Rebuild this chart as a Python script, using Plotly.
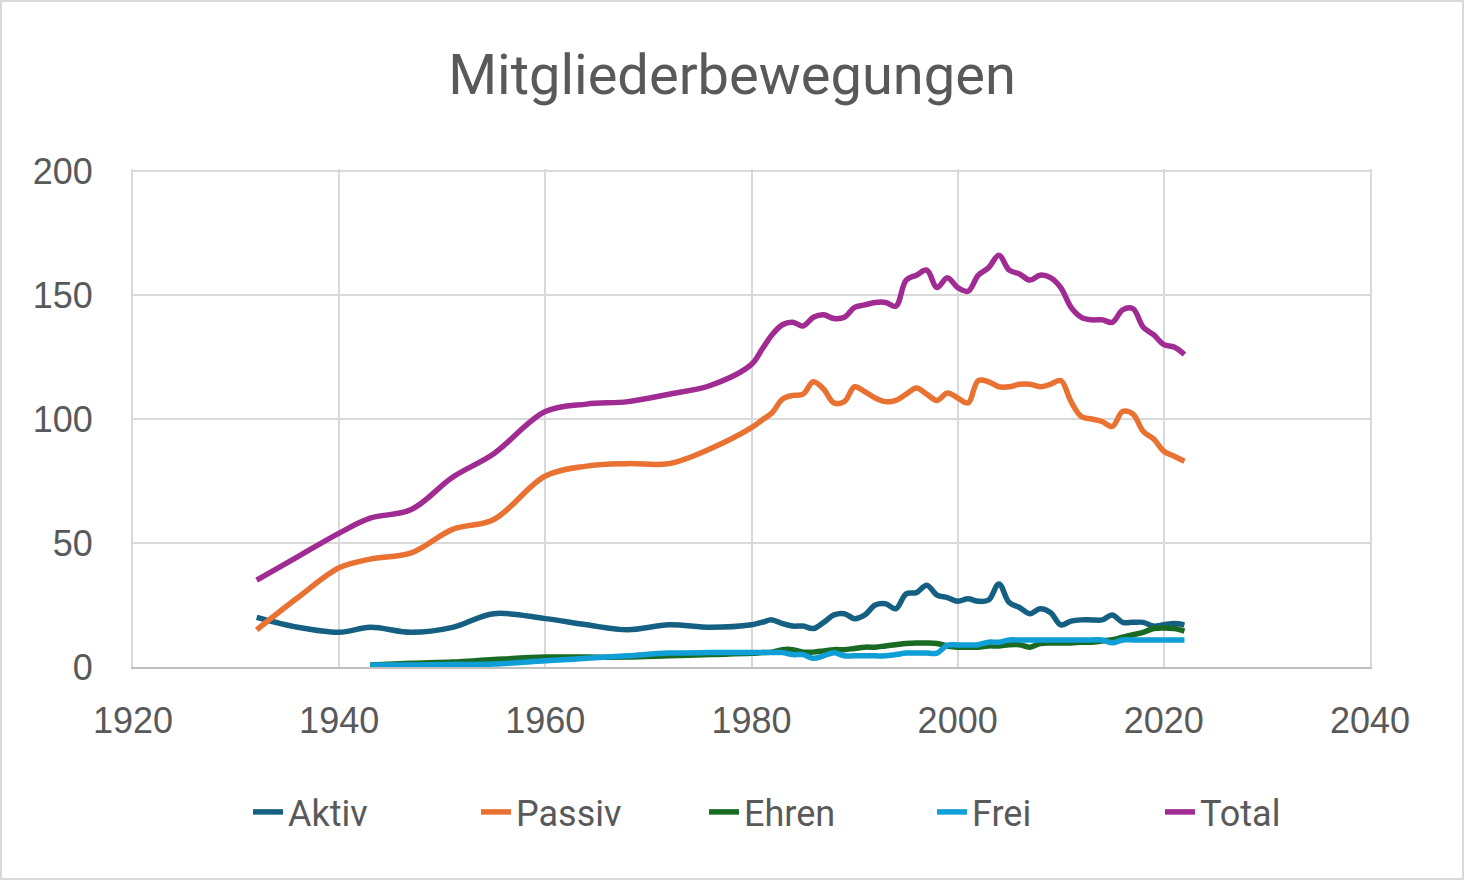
import plotly.graph_objects as go

# ---- data ----
years = [1932, 1936, 1940, 1943, 1947, 1951, 1955, 1960, 1964, 1968, 1972, 1976,
         1980, 1981, 1982, 1983, 1984, 1985, 1986, 1987, 1988, 1989,
         1990, 1991, 1992, 1993, 1994, 1995, 1996, 1997, 1998, 1999,
         2000, 2001, 2002, 2003, 2004, 2005, 2006, 2007, 2008, 2009,
         2010, 2011, 2012, 2013, 2014, 2015, 2016, 2017, 2018, 2019,
         2020, 2021, 2022]

aktiv = [20, 16, 14, 16, 14, 16, 21.5, 19.5, 17, 15, 17, 16,
         17, 18, 19, 17.5, 16.5, 16.5, 15.5, 18, 21, 21.5,
         19.5, 21, 25, 25.5, 23.5, 29.5, 30, 33, 29, 28,
         26.5, 27.5, 26.5, 27, 33.5, 26, 24, 21.5, 23.5, 22,
         17, 18.5, 19, 19, 19, 21, 18, 18, 18, 16.5,
         17, 17.5, 17]

passiv = [15, 28, 40, 43.5, 46, 55.5, 59.5, 77, 81, 82, 82, 88,
          96.5, 99.5, 102.5, 108, 109.5, 110, 115, 112, 106.5, 107,
          113, 111, 108.5, 107, 107.5, 110, 112.5, 110, 107.5, 110.5,
          108.5, 106.5, 115.5, 115, 113, 113, 114, 114, 113, 114,
          115.5, 107, 101, 100, 99, 97, 103, 102, 95, 92,
          87, 85, 83]

ehren = [None, None, None, 0.8, 1.5, 2, 3, 4, 4, 4, 4.5, 5,
         5.5, 5.8, 6, 7, 7, 6, 6, 6.5, 7, 7,
         7.5, 8, 8, 8.5, 9, 9.5, 9.7, 9.7, 9.5, 8.5,
         8, 8, 8, 8.5, 8.5, 9, 9, 8, 9.5, 9.7,
         9.7, 9.7, 10, 10, 10.5, 11, 12, 13, 14, 15.5,
         15.7, 15.5, 14.5]

frei = [None, None, None, 0.8, 0.8, 1, 1.2, 2.5, 3.5, 4.5, 5.6, 5.8,
        5.8, 5.8, 5.8, 5.8, 5, 5, 3.5, 4.5, 5.7, 4.5,
        4.5, 4.5, 4.5, 4.5, 5, 5.6, 5.6, 5.6, 5.6, 8.8,
        8.9, 8.9, 9, 10, 10, 10.9, 10.9, 10.9, 10.9, 10.9,
        10.9, 10.9, 10.9, 10.9, 10.9, 9.8, 10.9, 10.9, 10.9, 10.9,
        10.9, 10.9, 10.9]

total = [35, 44.5, 54, 60, 63.5, 76.5, 86, 103, 106, 107, 110, 113.5,
         122, 128, 134, 138, 139, 137.5, 141, 142, 140.5, 141,
         145, 146, 147, 147, 145.5, 156, 158, 160, 153, 157,
         153, 151.5, 158, 161, 166, 160, 158.5, 156, 158, 157,
         153, 145, 141, 140, 140, 139, 144, 144.5, 137, 134,
         130, 129, 126]

series_names = ["Aktiv", "Passiv", "Ehren", "Frei", "Total"]
series_values = [aktiv, passiv, ehren, frei, total]
series_colors = ["#156082", "#E97132", "#196B24", "#0F9ED5", "#A02B93"]

x_ticks = [1920, 1940, 1960, 1980, 2000, 2020, 2040]
y_ticks = [0, 50, 100, 150, 200]

# ---- figure ----
fig = go.Figure()
for name, vals, color in zip(series_names, series_values, series_colors):
    fig.add_trace(go.Scatter(
        x=years, y=vals, name=name, mode="lines",
        line=dict(color=color, width=5.5, shape="spline", smoothing=1),
    ))

W, H = 1464, 880
L, R, T, B = 133, 94, 169, 213
pw, ph = W - L - R, H - T - B

text_col = "#595959"
grid_col = "#d9d9d9"
fig.update_layout(
    width=W, height=H,
    margin=dict(l=L, r=R, t=T, b=B, pad=0),
    paper_bgcolor="white", plot_bgcolor="white",
    title=dict(text="Mitgliederbewegungen", x=0.5, xref="container", xanchor="center",
               y=1 - 74 / H, yref="container", yanchor="middle",
               font=dict(family="Roboto", size=56, color=text_col)),
    legend=dict(orientation="h", x=(248 - L) / pw, xanchor="left", xref="paper",
                y=-(812 - (H - B)) / ph, yanchor="middle",
                entrywidth=183, entrywidthmode="pixels",
                font=dict(family="Roboto", size=36, color=text_col),
                bgcolor="rgba(0,0,0,0)"),
    xaxis=dict(range=[x_ticks[0], x_ticks[-1]], tickvals=x_ticks,
               showgrid=True, gridcolor=grid_col, gridwidth=2,
               showline=True, linecolor="#bfbfbf", linewidth=2,
               zeroline=False, ticks="", ticklabelstandoff=21,
               tickfont=dict(family="Liberation Sans", size=36, color=text_col)),
    yaxis=dict(range=[y_ticks[0], y_ticks[-1] + 0.8], tickvals=y_ticks,
               showgrid=True, gridcolor=grid_col, gridwidth=2,
               showline=True, mirror=True, linecolor=grid_col, linewidth=2,
               zeroline=False, ticks="", ticklabelstandoff=31,
               tickfont=dict(family="Liberation Sans", size=36, color=text_col)),
    shapes=[dict(type="rect", xref="paper", yref="paper",
                 x0=(1 - L) / pw, x1=(W - 1 - L) / pw,
                 y0=-(B - 1) / ph, y1=(H - 1 - B) / ph,
                 line=dict(color=grid_col, width=2), fillcolor="rgba(0,0,0,0)",
                 layer="below")],
)

fig.write_html("out.html", config={"displayModeBar": False},
               post_script="document.body.style.margin='0';")
